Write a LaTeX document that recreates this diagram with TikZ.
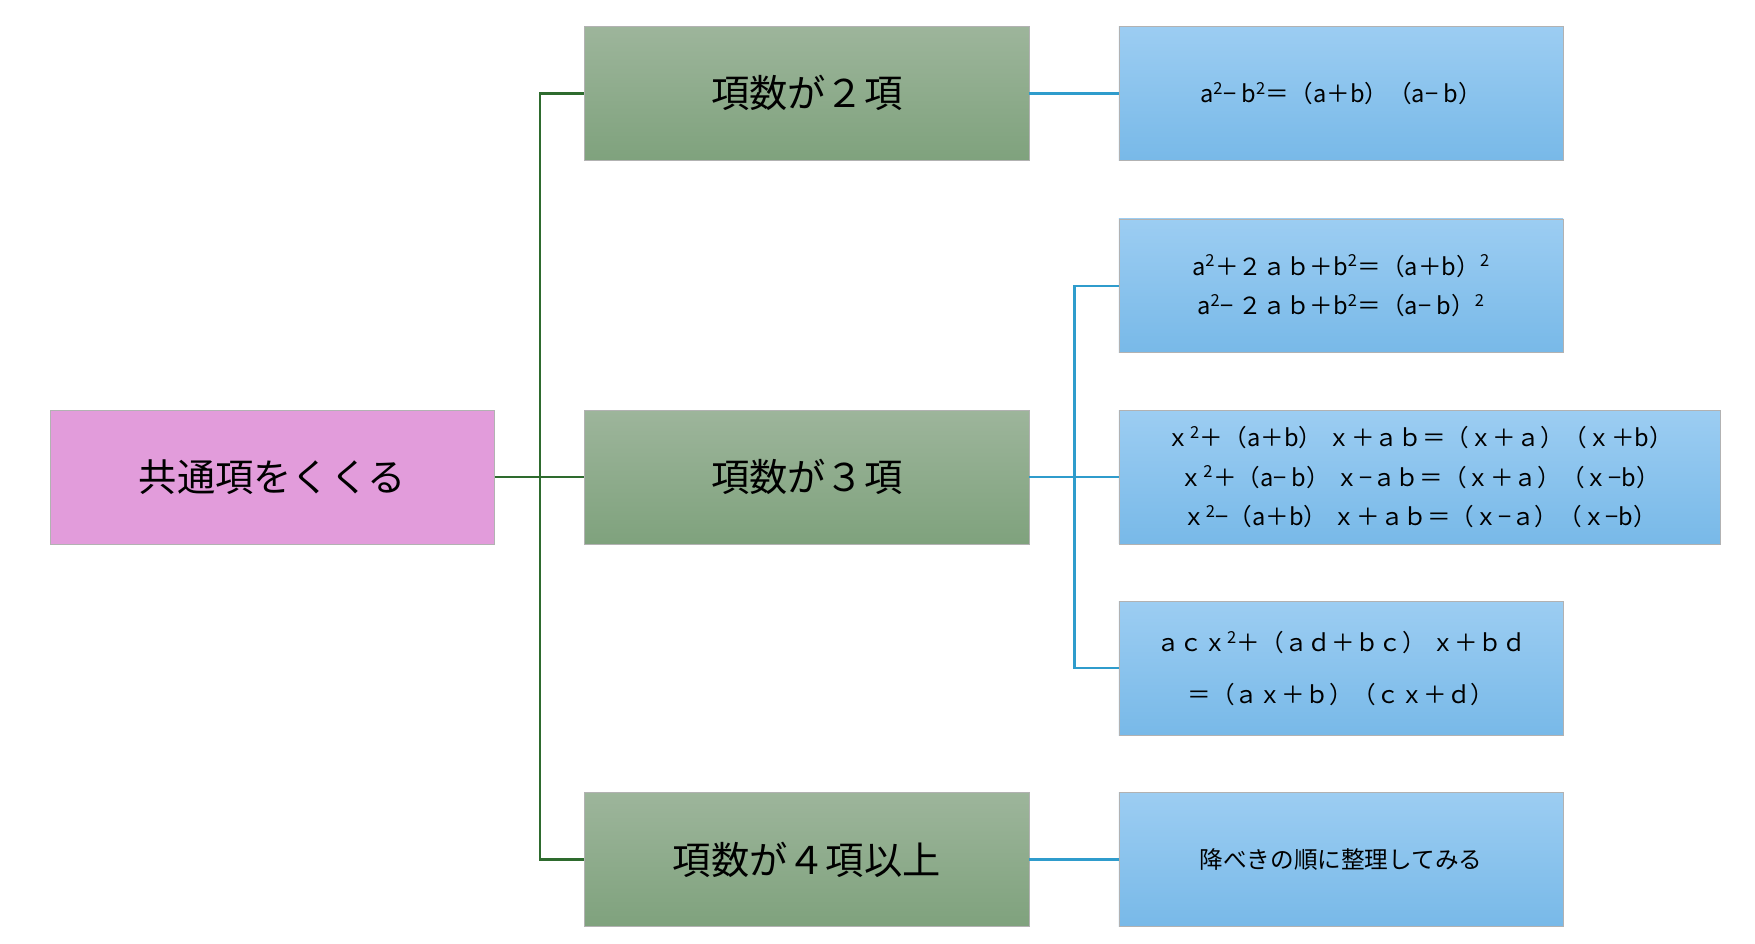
\documentclass[tikz,border=0pt]{standalone}
\usepackage{fontspec}
\setmainfont{Noto Sans CJK JP}
\newcommand{\sq}{\textsuperscript{2}}
\definecolor{rootpink}{HTML}{E29CDB}
\definecolor{grtop}{HTML}{9DB59B}
\definecolor{grbot}{HTML}{7FA27D}
\definecolor{bltop}{HTML}{9CCDF2}
\definecolor{blbot}{HTML}{78B9E8}
\definecolor{grline}{HTML}{2E6B2E}
\definecolor{blline}{HTML}{2F9CCC}

\begin{document}
\begin{tikzpicture}[x=1pt,y=-1pt,
	box/.style={draw=gray!60, minimum width=395pt, minimum height=119pt, align=center, inner sep=0pt},
	root/.style={box, fill=rootpink, font=\fontsize{34}{40}\selectfont},
	case/.style={box, top color=grtop, bottom color=grbot, font=\fontsize{34}{40}\selectfont},
	formula/.style={box, top color=bltop, bottom color=blbot, font=\fontsize{21}{35}\selectfont},
	gline/.style={draw=grline, line width=2pt},
	bline/.style={draw=blline, line width=2pt}]
	\useasboundingbox (0,0) rectangle (1560,839);
	% left and middle column
	\node[root] (root) at (242,424) {共通項をくくる};
	\node[case] (two) at (717,83) {項数が２項};
	\node[case] (three) at (717,424) {項数が３項};
	\node[case] (four) at (717,764) {項数が４項以上};
	% right column
	\node[formula] (f2) at (1192,83) {a\sq − b\sq ＝（a＋b）（a− b）};
	\node[formula] (fsq) at (1192,254) {a\sq＋２ａｂ＋b\sq ＝（a＋b）\sq\\a\sq − ２ａｂ＋b\sq ＝（a− b）\sq};
	\node[formula, minimum width=535pt] (fx) at (1262,424) {ｘ\sq＋（a＋b） ｘ＋ａｂ＝（ｘ＋ａ）（ｘ＋b）\\ｘ\sq＋（a− b） ｘ−ａｂ＝（ｘ＋ａ）（ｘ−b）\\ｘ\sq−（a＋b） ｘ＋ａｂ＝（ｘ−ａ）（ｘ−b）};
	\node[formula, font=\fontsize{21}{46}\selectfont] (fac) at (1192,594) {ａｃｘ\sq＋（ａｄ＋ｂｃ） ｘ＋ｂｄ\\＝（ａｘ＋ｂ）（ｃｘ＋ｄ）};
	\node[formula] (f4) at (1192,764) {降べきの順に整理してみる};
	% connectors
	\coordinate (gt) at (480,424);
	\coordinate (bt) at (955,424);
	\draw[gline] (root) -- (gt);
	\foreach \n in {two,three,four}
		\draw[gline] (gt) |- (\n.west);
	\draw[bline] (two) -- (f2);
	\draw[bline] (four) -- (f4);
	\draw[bline] (three) -- (bt);
	\foreach \n in {fsq,fx,fac}
		\draw[bline] (bt) |- (\n.west);
\end{tikzpicture}
\end{document}
